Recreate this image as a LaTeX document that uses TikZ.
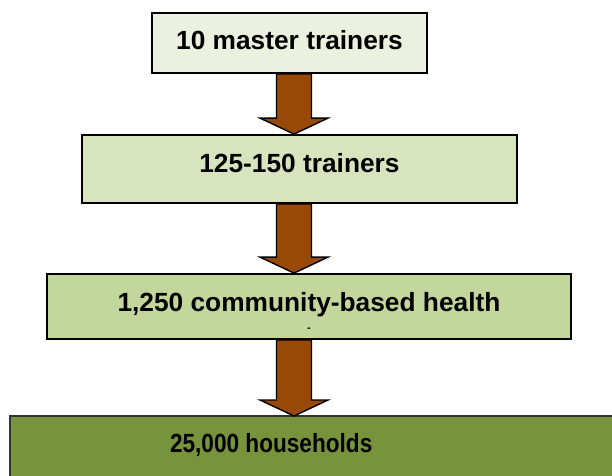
\documentclass[tikz,border=0pt]{standalone}
\usepackage{fontspec}
\setmainfont{Liberation Sans}
\usetikzlibrary{calc,backgrounds}
\definecolor{fillA}{HTML}{EBF1DE}
\definecolor{fillB}{HTML}{D7E4BD}
\definecolor{fillC}{HTML}{C3D69B}
\definecolor{fillD}{HTML}{77933C}
\definecolor{arrowbrown}{HTML}{984807}
\tikzset{
  box/.style={draw=black, line width=1.8pt, inner sep=0pt,
    font=\fontsize{26.3}{30}\selectfont\bfseries},
  blockarrow/.style={fill=arrowbrown, draw=black, line width=1.4pt, line join=miter},
}
\newcommand\blockarrow[2]{%
  \draw[blockarrow] ($(#1.south -| ax)+(-17.5,0)$) -- ($(#2.north -| ax)+(-17.5,-16)$)
    -- ($(#2.north -| ax)+(-34,-16)$) -- (#2.north -| ax)
    -- ($(#2.north -| ax)+(34,-16)$) -- ($(#2.north -| ax)+(17.5,-16)$)
    -- ($(#1.south -| ax)+(17.5,0)$) -- cycle;}
\begin{document}
\begin{tikzpicture}[x=1pt,y=-1pt]
\useasboundingbox (0,0) rectangle (612,475);
\coordinate (ax) at (294,0);
\node[box, fill=fillA, minimum width=275pt, minimum height=60pt,
  text height=18pt, text depth=6pt] (b1) at (289.5,43) {10 master trainers};
\node[box, fill=fillB, minimum width=435pt, minimum height=68pt,
  text height=18pt, text depth=12pt] (b2) at (299.5,169) {125-150 trainers};
\node[box, fill=fillC, minimum width=524pt, minimum height=65pt,
  text height=18pt, text depth=9pt,
  label={[anchor=center, yshift=10pt, inner sep=0pt, font=\fontsize{11}{11}\selectfont\bfseries]south:-}]
  (b3) at (309,306.5) {1,250 community-based health};
\node[font=\fontsize{26.3}{30}\selectfont\bfseries, inner sep=0pt,
  minimum width=522pt, minimum height=58pt, text height=19pt, text depth=5pt,
  anchor=north west] (b4) at (10,416) {\scalebox{0.86}[1]{25,000 households}};
\begin{scope}[on background layer]
  \fill[white] (0,0) rectangle (612,475);
  \draw[fill=fillD, draw=black!80, line width=1.8pt] (b4.north west) rectangle (630,490);
\end{scope}
\blockarrow{b1}{b2}
\blockarrow{b2}{b3}
\blockarrow{b3}{b4}
\end{tikzpicture}
\end{document}
